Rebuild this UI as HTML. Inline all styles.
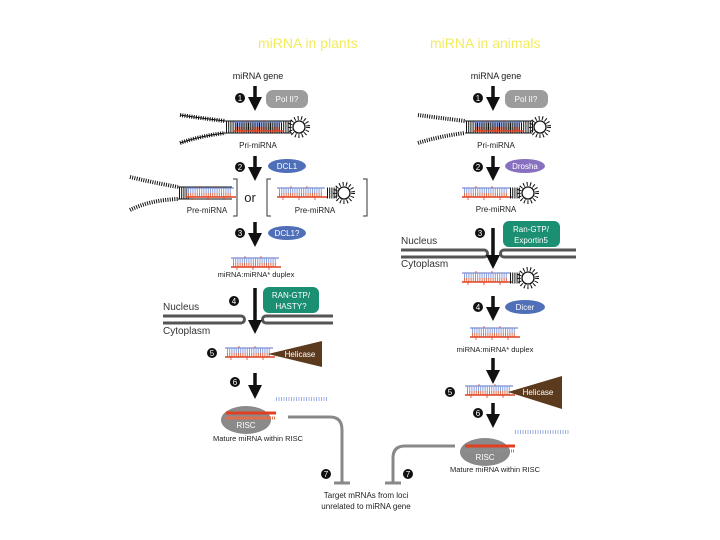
<!DOCTYPE html>
<html><head><meta charset="utf-8"><style>
html,body{margin:0;padding:0;background:#fff;}
svg{display:block;}
text{font-family:"Liberation Sans",sans-serif;}
</style></head><body>
<svg width="720" height="540" viewBox="0 0 720 540" xmlns="http://www.w3.org/2000/svg">
<defs>
 <marker id="ah" markerWidth="4" markerHeight="4" refX="2" refY="2" orient="auto" markerUnits="strokeWidth"><path d="M0,0 L4,2 L0,4z" fill="#111"/></marker>
 <g id="dup">
  <line x1="0" y1="0" x2="48" y2="0" stroke="#7c8fd0" stroke-width="1.3"/>
  <line x1="2" y1="3" x2="46" y2="3" stroke="#8aa0dd" stroke-width="5" stroke-dasharray="1 1.2"/>
  <line x1="2" y1="7" x2="46" y2="7" stroke="#e07050" stroke-width="4" stroke-dasharray="1 1.2"/>
  <line x1="0" y1="9" x2="50" y2="9" stroke="#e04020" stroke-width="1.6"/>
  <path d="M6,9v3M22,9v3M38,9v3M14,0v-2M30,0v-2" stroke="#e04020" stroke-width="0.8"/>
 </g>
 <g id="loop">
  <circle cx="0" cy="0" r="9" fill="none" stroke="#111" stroke-width="4" stroke-dasharray="1 2.4"/>
  <circle cx="0" cy="0" r="6" fill="#fff" stroke="#111" stroke-width="1.3"/>
 </g>
 <g id="bullet"><circle cx="0" cy="0" r="5" fill="#111"/></g>
</defs>

<text x="258" y="48" font-size="14" fill="#f2ec5c">miRNA in plants</text>
<text x="430" y="48" font-size="14" fill="#f2ec5c">miRNA in animals</text>

<!-- ============ PLANTS ============ -->
<text x="258" y="79" font-size="9" text-anchor="middle" fill="#222">miRNA gene</text>
<use href="#bullet" x="240" y="98"/><text x="240" y="101" font-size="8" fill="#fff" text-anchor="middle">1</text>
<line x1="255" y1="86" x2="255" y2="104" stroke="#111" stroke-width="3.5" marker-end="url(#ah)"/>
<rect x="266" y="90" width="42" height="18" rx="7" fill="#9c9c9c"/><text x="287" y="102" font-size="8" fill="#fff" text-anchor="middle">Pol II?</text>
<path d="M180,115 Q200,118 225,121" fill="none" stroke="#111" stroke-width="4" stroke-dasharray="1 1.3"/>
<path d="M180,115 Q200,118 225,121" fill="none" stroke="#111" stroke-width="1"/>
<path d="M180,143 Q200,136 225,133" fill="none" stroke="#111" stroke-width="4" stroke-dasharray="1 1.3"/>
<path d="M180,143 Q200,136 225,133" fill="none" stroke="#111" stroke-width="1"/>
<line x1="225" y1="121" x2="292" y2="121" stroke="#111" stroke-width="1"/>
<line x1="225" y1="133" x2="292" y2="133" stroke="#111" stroke-width="1"/>
<line x1="226" y1="127" x2="292" y2="127" stroke="#111" stroke-width="11" stroke-dasharray="1 1.2"/>
<use href="#dup" x="234" y="122"/>
<use href="#loop" x="299" y="127"/>
<text x="258" y="148" font-size="8" text-anchor="middle" fill="#222">Pri-miRNA</text>

<use href="#bullet" x="240" y="167"/><text x="240" y="170" font-size="8" fill="#fff" text-anchor="middle">2</text>
<line x1="255" y1="156" x2="255" y2="174" stroke="#111" stroke-width="3.5" marker-end="url(#ah)"/>
<ellipse cx="287" cy="166" rx="19" ry="7" fill="#4f6fb8"/><text x="287" y="169" font-size="8" fill="#fff" text-anchor="middle">DCL1</text>
<path d="M130,177 Q150,182 178,187" fill="none" stroke="#111" stroke-width="4" stroke-dasharray="1 1.3"/>
<path d="M130,210 Q150,200 178,199" fill="none" stroke="#111" stroke-width="4" stroke-dasharray="1 1.3"/>
<line x1="178" y1="187" x2="232" y2="187" stroke="#111"/><line x1="178" y1="199" x2="232" y2="199" stroke="#111"/>
<line x1="179" y1="193" x2="190" y2="193" stroke="#111" stroke-width="11" stroke-dasharray="1 1.2"/>
<use href="#dup" x="186" y="188"/>
<text x="207" y="213" font-size="8" text-anchor="middle" fill="#222">Pre-miRNA</text>
<path d="M233,179 H237 V216 H233" fill="none" stroke="#333" stroke-width="1"/>
<text x="250" y="202" font-size="13" text-anchor="middle" fill="#222">or</text>
<path d="M271,179 H267 V216 H271" fill="none" stroke="#333" stroke-width="1"/>
<use href="#dup" x="277" y="188"/>
<line x1="327" y1="193" x2="337" y2="193" stroke="#111" stroke-width="11" stroke-dasharray="1 1.2"/>
<use href="#loop" x="344" y="193"/>
<text x="315" y="213" font-size="8" text-anchor="middle" fill="#222">Pre-miRNA</text>
<path d="M363,179 H367 V216 H363" fill="none" stroke="#333" stroke-width="1"/>

<use href="#bullet" x="240" y="233"/><text x="240" y="236" font-size="8" fill="#fff" text-anchor="middle">3</text>
<line x1="255" y1="222" x2="255" y2="240" stroke="#111" stroke-width="3.5" marker-end="url(#ah)"/>
<ellipse cx="287" cy="233" rx="19" ry="7" fill="#4f6fb8"/><text x="287" y="236" font-size="8" fill="#fff" text-anchor="middle">DCL1?</text>
<use href="#dup" x="231" y="258"/>
<text x="256" y="277" font-size="7.5" text-anchor="middle" fill="#222">miRNA:miRNA* duplex</text>

<use href="#bullet" x="234" y="301"/><text x="234" y="304" font-size="8" fill="#fff" text-anchor="middle">4</text>
<rect x="263" y="287" width="56" height="26" rx="6" fill="#1a8f72"/>
<text x="291" y="298" font-size="8" fill="#fff" text-anchor="middle">RAN-GTP/</text>
<text x="291" y="309" font-size="8" fill="#fff" text-anchor="middle">HASTY?</text>
<text x="163" y="310" font-size="10" fill="#333">Nucleus</text>
<path d="M163,316 H241 A3.5,3.5 0 0 1 241,323 H163" fill="none" stroke="#555" stroke-width="3"/>
<path d="M333,316 H266 A3.5,3.5 0 0 0 266,323 H333" fill="none" stroke="#555" stroke-width="3"/>
<text x="163" y="334" font-size="10" fill="#333">Cytoplasm</text>
<line x1="255" y1="288" x2="255" y2="327" stroke="#111" stroke-width="3.5" marker-end="url(#ah)"/>

<use href="#bullet" x="212" y="353"/><text x="212" y="356" font-size="8" fill="#fff" text-anchor="middle">5</text>
<use href="#dup" x="225" y="348"/>
<path d="M268,354 L322,341 L322,367 Z" fill="#5b3a1e"/>
<text x="300" y="357" font-size="8" fill="#fff" text-anchor="middle">Helicase</text>

<use href="#bullet" x="235" y="382"/><text x="235" y="385" font-size="8" fill="#fff" text-anchor="middle">6</text>
<line x1="255" y1="373" x2="255" y2="392" stroke="#111" stroke-width="3.5" marker-end="url(#ah)"/>
<line x1="276" y1="399" x2="328" y2="399" stroke="#9fb0e0" stroke-width="4" stroke-dasharray="1 1.5"/>
<ellipse cx="246" cy="420" rx="25" ry="14" fill="#8a8a8a"/>
<line x1="226" y1="413" x2="276" y2="413" stroke="#e04020" stroke-width="3"/>
<line x1="226" y1="418" x2="276" y2="418" stroke="#e07050" stroke-width="3" stroke-dasharray="1 1"/>
<text x="246" y="428" font-size="8" fill="#fff" text-anchor="middle">RISC</text>
<text x="258" y="441" font-size="7.5" text-anchor="middle" fill="#222">Mature miRNA within RISC</text>
<path d="M288,417 H330 Q342,417 342,430 V482" fill="none" stroke="#888" stroke-width="3"/>
<line x1="334" y1="483" x2="350" y2="483" stroke="#888" stroke-width="3"/>
<use href="#bullet" x="326" y="474"/><text x="326" y="477" font-size="8" fill="#fff" text-anchor="middle">7</text>

<text x="366" y="498" font-size="8" text-anchor="middle" fill="#222">Target mRNAs from loci</text>
<text x="366" y="509" font-size="8" text-anchor="middle" fill="#222">unrelated to miRNA gene</text>

<!-- ============ ANIMALS ============ -->
<text x="496" y="79" font-size="9" text-anchor="middle" fill="#222">miRNA gene</text>
<use href="#bullet" x="478" y="98"/><text x="478" y="101" font-size="8" fill="#fff" text-anchor="middle">1</text>
<line x1="493" y1="86" x2="493" y2="104" stroke="#111" stroke-width="3.5" marker-end="url(#ah)"/>
<rect x="505" y="90" width="43" height="18" rx="7" fill="#9c9c9c"/><text x="526" y="102" font-size="8" fill="#fff" text-anchor="middle">Pol II?</text>
<path d="M418,115 Q440,118 465,121" fill="none" stroke="#111" stroke-width="4" stroke-dasharray="1 1.3"/>
<path d="M418,143 Q440,136 465,133" fill="none" stroke="#111" stroke-width="4" stroke-dasharray="1 1.3"/>
<line x1="465" y1="121" x2="532" y2="121" stroke="#111"/><line x1="465" y1="133" x2="532" y2="133" stroke="#111"/>
<line x1="466" y1="127" x2="533" y2="127" stroke="#111" stroke-width="11" stroke-dasharray="1 1.2"/>
<use href="#dup" x="474" y="122"/>
<use href="#loop" x="540" y="127"/>
<text x="496" y="148" font-size="8" text-anchor="middle" fill="#222">Pri-miRNA</text>

<use href="#bullet" x="478" y="167"/><text x="478" y="170" font-size="8" fill="#fff" text-anchor="middle">2</text>
<line x1="493" y1="156" x2="493" y2="174" stroke="#111" stroke-width="3.5" marker-end="url(#ah)"/>
<ellipse cx="525" cy="166" rx="20" ry="7" fill="#8870c0"/><text x="525" y="169" font-size="8" fill="#fff" text-anchor="middle">Drosha</text>
<use href="#dup" x="462" y="188"/>
<line x1="510" y1="193" x2="520" y2="193" stroke="#111" stroke-width="11" stroke-dasharray="1 1.2"/>
<use href="#loop" x="528" y="193"/>
<text x="496" y="212" font-size="8" text-anchor="middle" fill="#222">Pre-miRNA</text>

<use href="#bullet" x="480" y="233"/><text x="480" y="236" font-size="8" fill="#fff" text-anchor="middle">3</text>
<rect x="503" y="221" width="57" height="26" rx="6" fill="#1a8f72"/>
<text x="531" y="232" font-size="8" fill="#fff" text-anchor="middle">Ran-GTP/</text>
<text x="531" y="243" font-size="8" fill="#fff" text-anchor="middle">Exportin5</text>
<text x="401" y="244" font-size="10" fill="#333">Nucleus</text>
<path d="M401,250 H484 A3.5,3.5 0 0 1 484,257 H401" fill="none" stroke="#555" stroke-width="3"/>
<path d="M576,250 H504 A3.5,3.5 0 0 0 504,257 H576" fill="none" stroke="#555" stroke-width="3"/>
<text x="401" y="267" font-size="10" fill="#333">Cytoplasm</text>
<line x1="493" y1="228" x2="493" y2="262" stroke="#111" stroke-width="3.5" marker-end="url(#ah)"/>
<use href="#dup" x="462" y="273"/>
<line x1="510" y1="278" x2="520" y2="278" stroke="#111" stroke-width="11" stroke-dasharray="1 1.2"/>
<use href="#loop" x="528" y="278"/>

<use href="#bullet" x="478" y="307"/><text x="478" y="310" font-size="8" fill="#fff" text-anchor="middle">4</text>
<line x1="493" y1="296" x2="493" y2="314" stroke="#111" stroke-width="3.5" marker-end="url(#ah)"/>
<ellipse cx="525" cy="307" rx="20" ry="7" fill="#4f6fb8"/><text x="525" y="310" font-size="8" fill="#fff" text-anchor="middle">Dicer</text>
<use href="#dup" x="470" y="328"/>
<text x="495" y="352" font-size="7.5" text-anchor="middle" fill="#222">miRNA:miRNA* duplex</text>
<line x1="493" y1="358" x2="493" y2="377" stroke="#111" stroke-width="3.5" marker-end="url(#ah)"/>

<use href="#bullet" x="450" y="392"/><text x="450" y="395" font-size="8" fill="#fff" text-anchor="middle">5</text>
<use href="#dup" x="465" y="386"/>
<path d="M508,392 L562,376 L562,409 Z" fill="#5b3a1e"/>
<text x="538" y="395" font-size="8" fill="#fff" text-anchor="middle">Helicase</text>

<use href="#bullet" x="478" y="413"/><text x="478" y="416" font-size="8" fill="#fff" text-anchor="middle">6</text>
<line x1="493" y1="403" x2="493" y2="421" stroke="#111" stroke-width="3.5" marker-end="url(#ah)"/>
<line x1="515" y1="432" x2="570" y2="432" stroke="#9fb0e0" stroke-width="4" stroke-dasharray="1 1.5"/>
<ellipse cx="485" cy="452" rx="25" ry="14" fill="#8a8a8a"/>
<line x1="465" y1="446" x2="515" y2="446" stroke="#e04020" stroke-width="3"/>
<line x1="465" y1="451" x2="515" y2="451" stroke="#e07050" stroke-width="3" stroke-dasharray="1 1"/>
<text x="485" y="460" font-size="8" fill="#fff" text-anchor="middle">RISC</text>
<text x="495" y="472" font-size="7.5" text-anchor="middle" fill="#222">Mature miRNA within RISC</text>
<path d="M455,446 H405 Q393,446 393,458 V482" fill="none" stroke="#888" stroke-width="3"/>
<line x1="385" y1="483" x2="401" y2="483" stroke="#888" stroke-width="3"/>
<use href="#bullet" x="408" y="474"/><text x="408" y="477" font-size="8" fill="#fff" text-anchor="middle">7</text>
</svg>
</body></html>
